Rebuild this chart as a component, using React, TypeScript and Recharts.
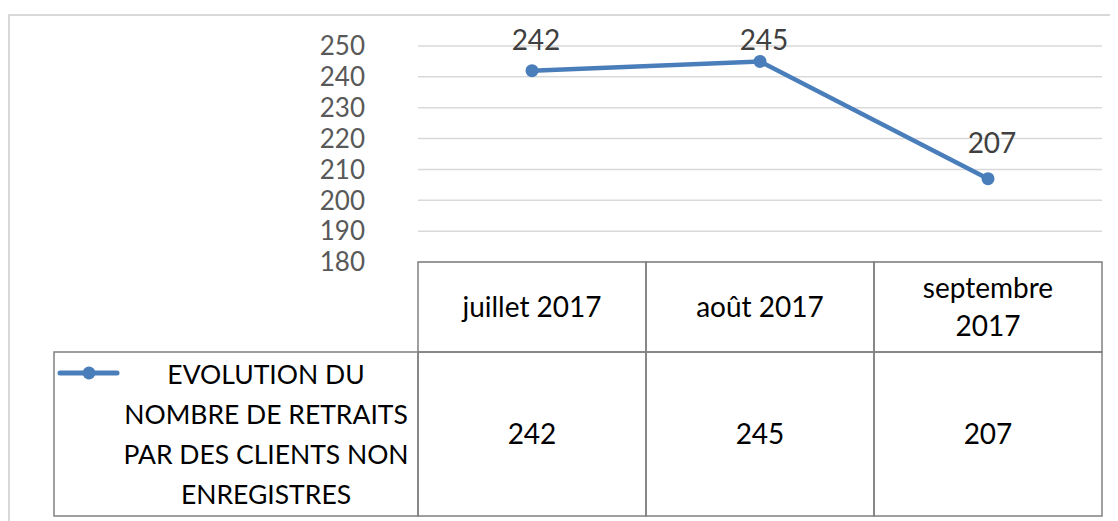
import React from 'react';
import { LineChart, Line, XAxis, YAxis, CartesianGrid, LabelList } from 'recharts';

const months = ['juillet 2017', 'août 2017', 'septembre 2017'];
const retraits = [242, 245, 207];
const yTicks = [180, 190, 200, 210, 220, 230, 240, 250];
const legendLines = ['EVOLUTION DU', 'NOMBRE DE RETRAITS', 'PAR DES CLIENTS NON', 'ENREGISTRES'];

const data = months.map((m, i) => ({ month: m, value: retraits[i] }));

const FONT = 'Lato, "Open Sans", sans-serif';
const BLUE = '#4a7ebb';
const GRID = '#808080';
const COL_W = 228;
const HEAD_H = 90;
const ROW_H = 164;

// draws the Excel-style data table under the plot area
const TableTick = (props: any) => {
  const { x, y, payload } = props;
  const i = payload.index;
  const label: string = months[i];
  const left = x - COL_W / 2;
  const lines = label.length > 12 ? label.split(' ') : [label];
  return (
    <g>
      <rect x={left} y={y} width={COL_W} height={HEAD_H} fill="none" stroke={GRID} strokeWidth={1.5} />
      <rect x={left} y={y + HEAD_H} width={COL_W} height={ROW_H} fill="none" stroke={GRID} strokeWidth={1.5} />
      {lines.map((ln, k) => (
        <text
          key={k}
          x={x}
          y={y + HEAD_H / 2 + (k - (lines.length - 1) / 2) * 38 + 10}
          textAnchor="middle"
          fontSize={28}
          fontFamily={FONT}
          fill="#000"
        >
          {ln}
        </text>
      ))}
      <text x={x} y={y + HEAD_H + ROW_H / 2 + 10} textAnchor="middle" fontSize={28} fontFamily={FONT} fill="#000">
        {retraits[i]}
      </text>
      {i === 0 && (
        <g>
          <rect x={46} y={y + HEAD_H} width={left - 46} height={ROW_H} fill="none" stroke={GRID} strokeWidth={1.5} />
          <line x1={52} x2={109} y1={y + HEAD_H + 21} y2={y + HEAD_H + 21} stroke={BLUE} strokeWidth={5} strokeLinecap="round" />
          <circle cx={81} cy={y + HEAD_H + 21} r={6.5} fill={BLUE} />
          {legendLines.map((ln, k) => (
            <text
              key={k}
              x={258}
              y={y + HEAD_H + 32 + k * 40}
              textAnchor="middle"
              fontSize={26.5}
              fontFamily={FONT}
              fill="#000"
            >
              {ln}
            </text>
          ))}
        </g>
      )}
    </g>
  );
};

// value label above the point, kept inside the plot top like Excel does
const PointLabel = (props: any) => {
  const { x, y, value } = props;
  const base = Math.max(y - 26, 42);
  return (
    <text x={x + 4} y={base} textAnchor="middle" fontSize={28} fontFamily={FONT} fill="#404040">
      {value}
    </text>
  );
};

export default function App() {
  return (
    <div style={{ position: 'relative', width: 1110, height: 513 }}>
      <div
        style={{
          position: 'absolute',
          left: 0,
          top: 6,
          width: 1120,
          height: 520,
          border: '2px solid #d9d9d9',
          boxSizing: 'border-box',
        }}
      />
      <div style={{ position: 'absolute', left: 0, top: 0 }}>
        <LineChart width={1110} height={513} data={data} margin={{ top: 38, right: 16, left: 350, bottom: 3 }}>
          <CartesianGrid vertical={false} stroke="#d9d9d9" strokeWidth={1.5} />
          <XAxis
            dataKey="month"
            axisLine={false}
            tickLine={false}
            tickSize={0}
            tickMargin={0}
            height={256}
            interval={0}
            padding={{ left: COL_W / 2, right: COL_W / 2 }}
            tick={(p: any) => <TableTick {...p} />}
          />
          <YAxis
            domain={[180, 250]}
            ticks={yTicks}
            interval={0}
            width={60}
            axisLine={false}
            tickLine={false}
            tickSize={0}
            tickMargin={53}
            tick={{ fontSize: 26, fontFamily: FONT, fill: '#595959' }}
          />
          <Line
            dataKey="value"
            stroke={BLUE}
            strokeWidth={4.5}
            dot={{ r: 6.5, fill: BLUE, stroke: BLUE, strokeWidth: 0 }}
            isAnimationActive={false}
          >
            <LabelList dataKey="value" content={(p: any) => <PointLabel {...p} />} />
          </Line>
        </LineChart>
      </div>
    </div>
  );
}
